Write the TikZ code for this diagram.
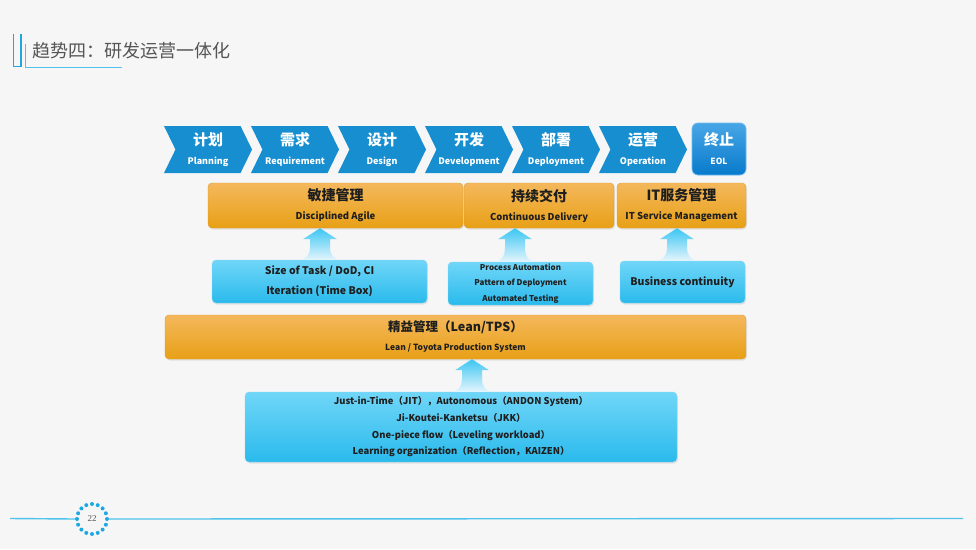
\documentclass[tikz,border=0pt]{standalone}
\usepackage{fontspec}
\setmainfont{Noto Sans CJK SC}
\newfontfamily\pagenumfont{Liberation Serif}
\usetikzlibrary{shapes.symbols,calc,shadows}
\definecolor{DevBg}{RGB}{246,246,246}
\definecolor{DevBlue}{RGB}{22,142,208}
\definecolor{DevEol}{RGB}{8,122,204}
\definecolor{DevEolTop}{RGB}{72,166,230}
\definecolor{DevEolLine}{RGB}{110,185,240}
\definecolor{DevOrangeTop}{RGB}{244,184,92}
\definecolor{DevOrangeBot}{RGB}{232,160,22}
\definecolor{DevOrangeLine}{RGB}{224,155,45}
\definecolor{DevSkyTop}{RGB}{112,214,248}
\definecolor{DevSkyBot}{RGB}{42,186,236}
\definecolor{DevSkyLine}{RGB}{140,215,242}
\definecolor{DevLiftTop}{RGB}{60,198,243}
\definecolor{DevLiftBot}{RGB}{228,245,252}
\definecolor{DevText}{RGB}{30,30,30}
\definecolor{DevTitle}{RGB}{85,85,85}
\definecolor{DevRule}{RGB}{30,168,226}
\definecolor{DevRuleLight}{RGB}{80,194,236}
\tikzset{
  dev/chevron/.style={
    signal,
    signal from=west,
    signal to=east,
    signal pointer angle=128,
    fill=DevBlue,
    minimum width=88pt,
    minimum height=47pt,
    inner sep=0pt,
    align=center,
    text=white,
    font=\fontsize{9}{19}\selectfont\bfseries
  },
  dev/eol/.style={
    draw=DevEolLine,
    thick,
    rounded corners=6pt,
    top color=DevEolTop,
    bottom color=DevEol,
    minimum width=54pt,
    minimum height=52pt,
    inner sep=0pt,
    align=center,
    text=white,
    font=\fontsize{8.5}{19}\selectfont\bfseries
  },
  dev/orange/.style={
    draw=DevOrangeLine,
    rounded corners=4pt,
    top color=DevOrangeTop,
    bottom color=DevOrangeBot,
    drop shadow={shadow xshift=1pt,shadow yshift=-1.5pt,opacity=0.18},
    inner sep=0pt,
    align=center,
    text=DevText,
    font=\fontsize{9.5}{19}\selectfont\bfseries
  },
  dev/sky/.style={
    draw=DevSkyLine,
    rounded corners=4pt,
    top color=DevSkyTop,
    bottom color=DevSkyBot,
    drop shadow={shadow xshift=1pt,shadow yshift=-1.5pt,opacity=0.18},
    inner sep=0pt,
    align=center,
    text=DevText,
    font=\fontsize{10.5}{20}\selectfont\bfseries
  },
  dev/lift/.style={top color=DevLiftTop, bottom color=DevLiftBot},
  dev/title/.style={font=\fontsize{18}{20}\selectfont, text=DevTitle, anchor=west, inner sep=0pt}
}
\newcommand{\liftarrow}[3]{%
  \path[dev/lift] let \p1=(#2.north), \p2=(#3.south) in
    (#1pt,\y2) -- ({#1pt+17pt},{\y2-11pt}) -- ({#1pt+10pt},{\y2-11pt})
    -- ({#1pt+10pt},{\y2-19pt}) .. controls ({#1pt+10pt},{\y1+5pt}) and ({#1pt+14pt},\y1) .. ({#1pt+21pt},\y1)
    -- ({#1pt-21pt},\y1) .. controls ({#1pt-14pt},\y1) and ({#1pt-10pt},{\y1+5pt}) .. ({#1pt-10pt},{\y2-19pt})
    -- ({#1pt-10pt},{\y2-11pt}) -- ({#1pt-17pt},{\y2-11pt}) -- cycle;}
\begin{document}
\begin{tikzpicture}[x=1pt,y=-1pt]
  \fill[DevBg] (0,0) rectangle (976,549);
  \useasboundingbox (0,0) rectangle (976,549);
  \draw[DevRule, line width=1.8pt] (13.5,34) -- (13.5,66.5) -- (21,66.5) -- (21,34);
  \draw[DevRuleLight, line width=1pt] (25.5,44) -- (25.5,67) -- (122,67);
  \node[dev/title] (title) at (32,51) {趋势四：研发运营一体化};
  \foreach \nm/\cn/\en [count=\i from 0] in {plan/计划/Planning, req/需求/Requirement, design/设计/Design, dev/开发/Development, deploy/部署/Deployment, oper/运营/Operation}
    \node[dev/chevron] (\nm) at ({208+87*\i},149.5) {{\fontsize{15}{19}\selectfont \cn}\\{\en}};
  \node[dev/eol] (eol) at (719,149) {{\fontsize{15}{19}\selectfont 终止}\\{EOL}};
  \node[dev/orange,minimum width=255pt,minimum height=45pt] (agile) at (335.5,205.5) {{\fontsize{14}{19}\selectfont 敏捷管理}\\{Disciplined Agile}};
  \node[dev/orange,minimum width=150pt,minimum height=45pt] (cd) at (539,205.5) {{\fontsize{14}{19}\selectfont 持续交付}\\{Continuous Delivery}};
  \node[dev/orange,minimum width=129pt,minimum height=45pt] (itsm) at (681.5,205.5) {{\fontsize{14}{19}\selectfont IT服务管理}\\{IT Service Management}};
  \node[dev/sky,minimum width=215pt,minimum height=43pt] (sizebox) at (319.5,281.5) {Size of Task / DoD, CI\\Iteration (Time Box)};
  \node[dev/sky,minimum width=145pt,minimum height=43pt,font=\fontsize{8}{15.5}\selectfont\bfseries] (autobox) at (520.5,283.5) {Process Automation\\Pattern of Deployment\\Automated Testing};
  \node[dev/sky,minimum width=125pt,minimum height=42pt] (bizbox) at (682.5,282) {Business continuity};
  \node[dev/orange,minimum width=581pt,minimum height=44pt,font=\fontsize{8.5}{19}\selectfont\bfseries] (lean) at (455.5,337) {{\fontsize{12.5}{19}\selectfont 精益管理（Lean/TPS）}\\{Lean / Toyota Production System}};
  \node[dev/sky,minimum width=432pt,minimum height=70pt,font=\fontsize{9.4}{16.7}\selectfont\bfseries] (jitbox) at (461,427) {Just-in-Time（JIT），Autonomous（ANDON System）\\Ji-Koutei-Kanketsu（JKK）\\One-piece flow（Leveling workload）\\Learning organization（Reflection，KAIZEN）};
  \liftarrow{320}{sizebox}{agile}
  \liftarrow{515}{autobox}{cd}
  \liftarrow{677}{bizbox}{itsm}
  \liftarrow{472}{jitbox}{lean}
  \node[circle,minimum size=34pt,inner sep=0pt,font=\pagenumfont\fontsize{9}{10}\selectfont,text=DevTitle] (pagenum) at (92,519) {22};
  \foreach \a in {0,22.5,...,337.5}
    \fill[DevRule] (pagenum.center) ++(\a:15) circle (2pt);
  \draw[DevRuleLight, line width=1.4pt] (10,518.5) -- (pagenum.west);
  \draw[DevRuleLight, line width=1.4pt] (pagenum.east) -- (963,518.5);
\end{tikzpicture}
\end{document}
